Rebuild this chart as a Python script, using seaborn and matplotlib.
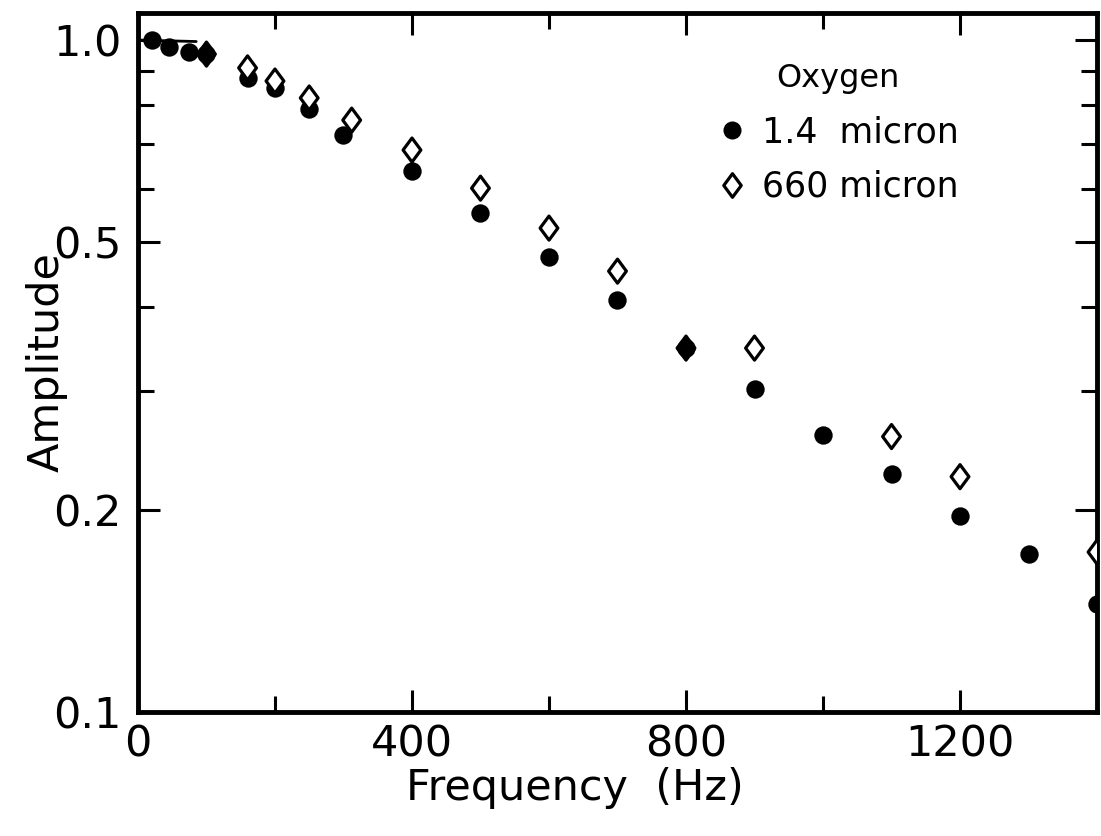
import numpy as np
import pandas as pd
import matplotlib
matplotlib.use("Agg")
import matplotlib.pyplot as plt
from matplotlib.path import Path
from matplotlib.lines import Line2D
from matplotlib.ticker import FixedLocator, NullFormatter
import seaborn as sns

# ---- data ----
freq_small = [20, 45, 75, 100, 160, 200, 250, 300, 400, 500, 600, 700, 800, 900, 1000, 1100, 1200, 1300, 1400]
amp_small = [1.0, 0.976, 0.96, 0.953, 0.878, 0.848, 0.789, 0.722, 0.638, 0.553, 0.475, 0.410, 0.348, 0.302, 0.258, 0.226, 0.196, 0.172, 0.145]

freq_large = [100, 160, 200, 250, 312, 400, 500, 600, 700, 800, 900, 1100, 1200, 1400]
amp_large = [0.953, 0.909, 0.869, 0.820, 0.760, 0.686, 0.602, 0.525, 0.453, 0.348, 0.348, 0.257, 0.224, 0.173]

fit_freq = [0, 85]
fit_amp = [1.0, 0.995]

x_major = [0, 400, 800, 1200]
x_minor = [200, 600, 1000]
y_major = [0.1, 0.2, 0.5, 1.0]
y_major_labels = ["0.1", "0.2", "0.5", "1.0"]
y_minor = [0.3, 0.4, 0.6, 0.7, 0.8, 0.9]

legend_title = "Oxygen"
label_small = "1.4  micron"
label_large = "660 micron"

# ---- style ----
sns.set_theme(style="ticks")
plt.rcParams["font.family"] = ["DejaVu Sans"]
for k in ["text.color", "axes.labelcolor", "xtick.color", "ytick.color", "axes.edgecolor"]:
    plt.rcParams[k] = "black"

fig = plt.figure(figsize=(11.01, 8.36), dpi=100)
ax = fig.add_axes([0.1253, 0.1483, 0.8711, 0.8361])

df_s = pd.DataFrame({"freq": freq_small, "amp": amp_small})
df_l = pd.DataFrame({"freq": freq_large, "amp": amp_large})
both = set(zip(freq_small, amp_small))
df_l["filled"] = [(f, a) in both for f, a in zip(freq_large, amp_large)]

diamond = Path([(0, 1), (0.74, 0), (0, -1), (-0.74, 0), (0, 1)],
               [Path.MOVETO, Path.LINETO, Path.LINETO, Path.LINETO, Path.CLOSEPOLY])

sns.lineplot(x=fit_freq, y=fit_amp, ax=ax, color="black", linewidth=2)
sns.scatterplot(data=df_s, x="freq", y="amp", ax=ax, marker="o", s=175,
                color="black", linewidth=0, zorder=3, legend=False)
sns.scatterplot(data=df_l, x="freq", y="amp", ax=ax, marker=diamond, s=300,
                facecolor=["black" if f else "white" for f in df_l["filled"]],
                edgecolor="black", linewidth=2.3, zorder=4, legend=False)

ax.set_yscale("log")
ax.set_xlim(0, 1400)
ax.set_ylim(0.1, 1.097)

ax.xaxis.set_major_locator(FixedLocator(x_major))
ax.xaxis.set_minor_locator(FixedLocator(x_minor))
ax.set_xticklabels([str(v) for v in x_major])
ax.xaxis.set_minor_formatter(NullFormatter())
ax.yaxis.set_major_locator(FixedLocator(y_major))
ax.set_yticklabels(y_major_labels)
ax.yaxis.set_minor_locator(FixedLocator(y_minor))
ax.yaxis.set_minor_formatter(NullFormatter())

for s in ax.spines.values():
    s.set_visible(True)
    s.set_linewidth(3.5)
    s.set_color("black")

ax.tick_params(which="both", direction="in", top=True, right=True,
               width=2.2, color="black")
ax.tick_params(which="major", length=16, labelsize=31)
ax.tick_params(axis="x", which="major", pad=8)
ax.tick_params(axis="y", which="major", pad=12)
ax.tick_params(which="minor", length=11.5)

ax.set_xlabel("Frequency  (Hz)", fontsize=31)
ax.set_ylabel("Amplitude", fontsize=31)
ax.xaxis.set_label_coords(0.456, -0.078)
ax.yaxis.set_label_coords(-0.073, 0.5)

handles = [
    Line2D([], [], linestyle="none", marker="o", markersize=13,
           markerfacecolor="black", markeredgewidth=0, label=label_small),
    Line2D([], [], linestyle="none", marker=diamond, markersize=17,
           markerfacecolor="white", markeredgecolor="black",
           markeredgewidth=2.3, label=label_large),
]
ax.legend(handles=handles, title=legend_title, frameon=False, loc="upper left",
          bbox_to_anchor=(0.589, 0.948), fontsize=25, title_fontsize=23,
          handletextpad=0.4, labelspacing=0.6, borderaxespad=0,
          handlelength=0.9)

fig.savefig("out.png", dpi=100, facecolor="white")
